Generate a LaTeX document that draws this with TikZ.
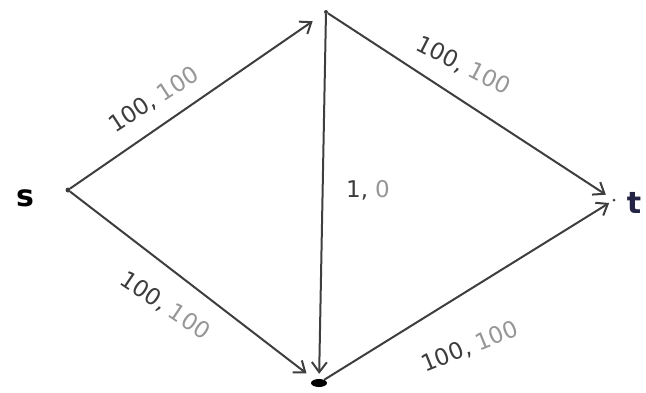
\documentclass[tikz,border=0pt]{standalone}
\usepackage{fontspec}
\setmainfont{DejaVu Sans}
\usetikzlibrary{arrows.meta,shapes.geometric}
\definecolor{edgec}{RGB}{62,62,62}
\definecolor{labdark}{RGB}{60,60,60}
\definecolor{lablight}{RGB}{150,150,150}
\definecolor{tcol}{RGB}{35,35,70}
\tikzset{
  vert/.style={circle,fill=edgec,inner sep=0pt,minimum size=5pt},
  edge/.style={draw=edgec,line width=2pt,-{Straight Barb[length=10pt,width=15pt,line width=2pt]},shorten >=3pt},
  lab/.style={font=\fontsize{23}{23}\selectfont,inner sep=1pt},
  term/.style={font=\bfseries\fontsize{30}{30}\selectfont}
}
\newcommand{\flowlab}[2]{\textcolor{labdark}{#1,}\hspace{7pt}\textcolor{lablight}{#2}}
\begin{document}
\begin{tikzpicture}[x=1pt,y=-1pt]
\useasboundingbox (0,0) rectangle (646,392);
\node[vert] (s) at (68,190) {};
\node[vert,minimum size=4pt] (v) at (326,12) {};
\node[ellipse,fill=black,inner sep=0pt,minimum width=16pt,minimum height=8pt] (w) at (319,383) {};
\node[vert,minimum size=3pt] (t) at (614,200) {};
\node[term] (slab) at (25,198) {s};
\node[term,text=tcol] (tlab) at (634,203) {t};
\draw[edge,shorten >=14pt] (s) -- (v);
\draw[edge,shorten >=8pt] (v) -- (t);
\draw[edge,shorten >=10pt] (s) -- (w);
\draw[edge,shorten >=4pt] (w) -- (t);
\draw[edge,shorten >=5pt] (v) -- (w);
\node[lab,rotate=33] (l1) at (154,100) {\flowlab{100}{100}};
\node[lab,rotate=-27] (l2) at (463,66) {\flowlab{100}{100}};
\node[lab,rotate=-34] (l3) at (165,306) {\flowlab{100}{100}};
\node[lab,rotate=22] (l4) at (470,347) {\flowlab{100}{100}};
\node[lab] (l5) at (368,190) {\textcolor{labdark}{1,}\hspace{7pt}\textcolor{lablight}{0}};
\end{tikzpicture}
\end{document}
